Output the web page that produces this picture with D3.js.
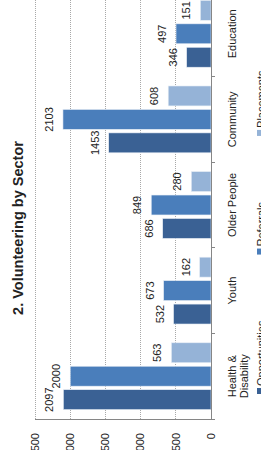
<!DOCTYPE html>
<html>
<head>
<meta charset="utf-8">
<script src="https://cdn.jsdelivr.net/npm/d3@7"></script>
<style>
  html, body { margin: 0; padding: 0; background: #fff; overflow: hidden; }
  svg { display: block; font-family: "Liberation Sans", Arial, sans-serif; }
</style>
</head>
<body>
<script>
// ---- data ----
const categories = ["Health & Disability", "Youth", "Older People", "Community", "Education"];
const categoryLines = [["Health &", "Disability"], ["Youth"], ["Older People"], ["Community"], ["Education"]];
const seriesNames = ["Opportunities", "Referrals", "Placements"];
const opportunities = [2097, 532, 686, 1453, 346];
const referrals = [2000, 673, 849, 2103, 497];
const placements = [563, 162, 280, 608, 151];
const valueTicks = [0, 500, 1000, 1500, 2000, 2500];
const titleText = "2. Volunteering by Sector";

const seriesValues = [opportunities, referrals, placements];
const colors = ["#3a6194", "#4a7ebb", "#95b3d7"];

// original (unrotated) chart is 450 wide x 261 high, rotated -90deg into 261x450
const W = 450, H = 261;
const svg = d3.select("body").append("svg").attr("width", 261).attr("height", 450);
const g = svg.append("g").attr("transform", "translate(0,450) rotate(-90)");

const band = 85.6;
const x = d3.scaleBand().domain(categories).range([31, 31 + band * categories.length]).padding(0);
const xs = d3.scaleBand().domain(seriesNames).range([0, x.bandwidth()]).paddingInner(0.15).paddingOuter(0.4);
const y = d3.scaleLinear().domain([0, 2500]).range([211, 35]);

// gridlines
g.append("g").selectAll("line").data(valueTicks.filter(v => v > 0)).join("line")
  .attr("x1", 31).attr("x2", 31 + band * categories.length)
  .attr("y1", d => y(d)).attr("y2", d => y(d))
  .attr("stroke", "#a8a8a8").attr("stroke-width", 1).attr("stroke-dasharray", "1,1")
  .attr("shape-rendering", "crispEdges");

// bars
const rows = categories.map((c, i) => seriesNames.map((s, j) => ({ c, s, v: seriesValues[j][i], j })));
const cg = g.append("g").selectAll("g").data(rows).join("g")
  .attr("transform", (d, i) => `translate(${x(categories[i])},0)`);
cg.selectAll("rect").data(d => d).join("rect")
  .attr("x", d => xs(d.s)).attr("width", xs.bandwidth())
  .attr("y", d => y(d.v)).attr("height", d => y(0) - y(d.v))
  .attr("fill", d => colors[d.j])
  .attr("stroke", "#e8eef6").attr("stroke-width", 0.6);
cg.selectAll("text").data(d => d).join("text")
  .attr("x", d => xs(d.s) + xs.bandwidth() / 2).attr("y", d => y(d.v) - 10)
  .attr("text-anchor", "middle").attr("font-size", 11).attr("fill", "#222")
  .text(d => d.v);

// axes lines
const axisColor = "#868686";
g.append("line").attr("x1", 31).attr("x2", 31).attr("y1", y(2500)).attr("y2", y(0) + 4)
  .attr("stroke", axisColor).attr("shape-rendering", "crispEdges");
g.append("line").attr("x1", 31).attr("x2", 31 + band * categories.length).attr("y1", y(0)).attr("y2", y(0))
  .attr("stroke", axisColor).attr("shape-rendering", "crispEdges");
// category tick marks at band boundaries
const bounds = categories.map(c => x(c)).concat([31 + band * categories.length]);
g.append("g").selectAll("line").data(bounds).join("line")
  .attr("x1", d => d).attr("x2", d => d).attr("y1", y(0)).attr("y2", y(0) + 4)
  .attr("stroke", axisColor).attr("shape-rendering", "crispEdges");

// value axis labels
g.append("g").selectAll("text").data(valueTicks).join("text")
  .attr("x", 17).attr("y", d => y(d)).attr("dy", "0.35em")
  .attr("text-anchor", "end").attr("font-size", 11).attr("fill", "#222")
  .text(d => d);

// category labels
const cl = g.append("g").selectAll("text").data(categories).join("text")
  .attr("text-anchor", "middle").attr("font-size", 11).attr("fill", "#222");
cl.each(function (c, i) {
  const t = d3.select(this);
  categoryLines[i].forEach((line, k) => {
    t.append("tspan").attr("x", x(c) + x.bandwidth() / 2).attr("y", 236 + k * 12).text(line);
  });
});

// title
g.append("text").attr("x", 222).attr("y", 23).attr("text-anchor", "middle")
  .attr("font-size", 14.5).attr("font-weight", "bold").attr("fill", "#222").text(titleText);

// legend
const lg = g.append("g");
let lx = 56;
seriesNames.forEach((s, j) => {
  lg.append("rect").attr("x", lx).attr("y", 257).attr("width", 6).attr("height", 6).attr("fill", colors[j]);
  const t = lg.append("text").attr("x", lx + 8).attr("y", 265).attr("font-size", 11).attr("fill", "#222").text(s);
  lx += 8 + t.node().getComputedTextLength() + 66;
});
</script>
</body>
</html>
